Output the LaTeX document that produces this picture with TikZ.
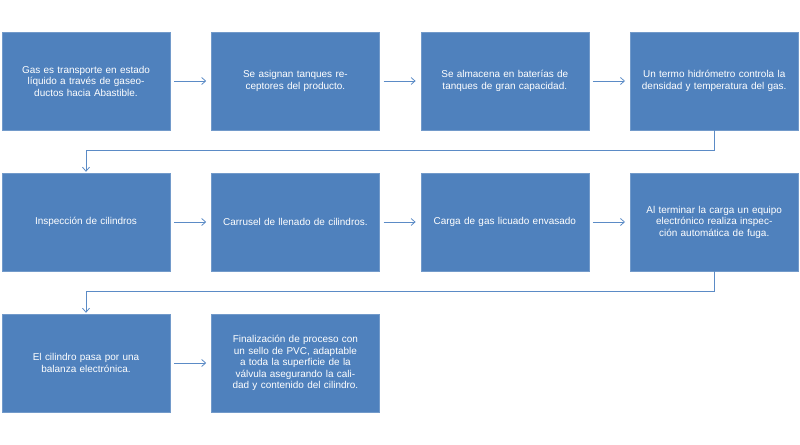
\documentclass[tikz,border=0pt]{standalone}
\usepackage{fontspec}
\setmainfont{Liberation Sans}
\usetikzlibrary{positioning, arrows.meta}
\definecolor{boxblue}{HTML}{4F81BD}
\definecolor{lineblue}{HTML}{5B8BC6}
\begin{document}
\begin{tikzpicture}[x=1bp,y=-1bp,node distance=41bp,
  stepbox/.style={fill=boxblue,draw=boxblue!80!white,minimum width=168bp,minimum height=98bp,
    text width=150bp,align=center,text=white,font=\fontsize{10}{11.5}\selectfont,inner sep=2bp},
  flow/.style={draw=lineblue,line width=0.8pt,-{Straight Barb[length=4pt,width=7pt]},shorten <=4pt,shorten >=5pt}]
  \useasboundingbox (0,0) rectangle (800,445);

  \node[stepbox] (s1) at (86,81) {Gas es transporte en estado líquido a través de gaseoductos hacia Abastible.};
  \node[stepbox] (s2) [right = of s1] {Se asignan tanques receptores del producto.};
  \node[stepbox] (s3) [right = of s2] {Se almacena en baterías de tanques de gran capacidad.};
  \node[stepbox] (s4) [right = of s3] {Un termo hidrómetro controla la densidad y temperatura del gas.};
  \node[stepbox] (s5) at (86,222) {Inspección de cilindros};
  \node[stepbox] (s6) [right = of s5] {Carrusel de llenado de cilindros.};
  \node[stepbox] (s7) [right = of s6] {Carga de gas licuado envasado};
  \node[stepbox] (s8) [right = of s7] {Al terminar la carga un equipo electrónico realiza inspección automática de fuga.};
  \node[stepbox] (s9) at (86,363) {El cilindro pasa por una balanza electrónica.};
  \node[stepbox] (s10) [right = of s9] {Finalización de proceso con un sello de PVC, adaptable a toda la superficie de la válvula asegurando la calidad y contenido del cilindro.};

  \draw[flow] (s1) -- (s2);
  \draw[flow] (s2) -- (s3);
  \draw[flow] (s3) -- (s4);
  \draw[flow] (s5) -- (s6);
  \draw[flow] (s6) -- (s7);
  \draw[flow] (s7) -- (s8);
  \draw[flow] (s9) -- (s10);
  \draw[flow,shorten <=0pt,shorten >=1pt] (s4.south) -- ++(0,20) -| (s5.north);
  \draw[flow,shorten <=0pt,shorten >=1pt] (s8.south) -- ++(0,20) -| (s9.north);
\end{tikzpicture}
\end{document}
